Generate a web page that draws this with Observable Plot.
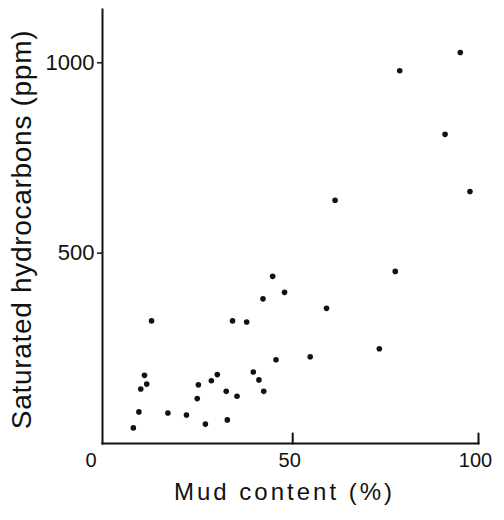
<!DOCTYPE html>
<html>
<head>
<meta charset="utf-8">
<script src="https://cdn.jsdelivr.net/npm/d3@7"></script>
<script src="https://cdn.jsdelivr.net/npm/@observablehq/plot@0.6"></script>
<style>
  html, body { margin: 0; padding: 0; background: #fff; }
  svg { display: block; }
</style>
</head>
<body>
<div id="chart"></div>
<script>
// Mud content (%) and saturated hydrocarbons (ppm)
const mud = [95.1, 78.8, 91.0, 97.7, 61.4, 77.6, 44.6, 47.8, 42.0, 59.1,
             12.0, 33.8, 37.6, 73.3, 54.7, 45.5, 39.4, 10.1, 29.7, 28.1,
             40.9, 10.7, 24.6, 9.1, 32.1, 42.2, 35.0, 24.3, 8.6, 16.4,
             21.4, 32.4, 26.5, 7.1];
const ppm = [1027, 979, 812, 662, 639, 452, 439, 397, 380, 355,
             322, 322, 319, 249, 228, 220, 188, 179, 181, 165,
             167, 156, 154, 143, 137, 137, 124, 118, 83, 80,
             75, 62, 51, 41];
const xTickLabels = [50, 100];
const xZeroLabel = [0];
const yTickValues = [500, 1000];
const xTitle = "Mud content (%)";
const yTitle = "Saturated hydrocarbons (ppm)";

const points = mud.map((m, i) => ({mud: m, ppm: ppm[i]}));

const hand = "'Liberation Sans', 'DejaVu Sans', sans-serif";

// a plain line shape for inward tick marks
const tickShape = {draw(context, l) { context.moveTo(0, 0); context.lineTo(0, -l); }};

const chart = Plot.plot({
  width: 504,
  height: 520,
  marginLeft: 102,
  marginRight: 26,
  marginTop: 9,
  marginBottom: 77,
  style: {background: "#fff", color: "#111"},
  x: {domain: [-1.2, 100], axis: null},
  y: {domain: [0, 1140], axis: null},
  marks: [
    Plot.frame({anchor: "left", stroke: "#111", strokeWidth: 2}),
    Plot.frame({anchor: "bottom", stroke: "#111", strokeWidth: 2}),
    Plot.vector(xTickLabels, {x: d => d, y: 0, length: 10, rotate: 0, anchor: "start",
      shape: tickShape, stroke: "#111", strokeWidth: 2}),
    Plot.text(xTickLabels, {x: d => d, y: 0, text: d => String(d), dy: 17, dx: -3,
      fontSize: 20, fontFamily: hand, fill: "#111"}),
    Plot.text(xZeroLabel, {x: d => d, y: 0, text: d => String(d), dy: 17, dx: -16,
      fontSize: 20, fontFamily: hand, fill: "#111"}),
    Plot.axisY(yTickValues, {tickSize: 5, tickPadding: 3, fontSize: 22, fontFamily: hand,
      strokeWidth: 1.5, stroke: "#111", fill: "#111", tickFormat: d => String(d), label: null}),
    Plot.text([xTitle], {frameAnchor: "bottom", text: d => d, dy: 49, dx: -6,
      fontSize: 24, fontFamily: hand, fill: "#111", lineAnchor: "middle", textAnchor: "middle"}),
    Plot.text([yTitle], {frameAnchor: "left", text: d => d, rotate: -90, dx: -80, dy: 3,
      fontSize: 28, fontFamily: hand, fill: "#111", lineAnchor: "middle", textAnchor: "middle"}),
    Plot.dot(points, {x: "mud", y: "ppm", r: 2.8, fill: "#111", stroke: null})
  ]
});
chart.querySelectorAll("text").forEach(t => {
  if (t.textContent === xTitle) t.setAttribute("letter-spacing", "3");
  if (t.textContent === yTitle) t.setAttribute("letter-spacing", "0.7");
});
document.getElementById("chart").appendChild(chart);
</script>
</body>
</html>
